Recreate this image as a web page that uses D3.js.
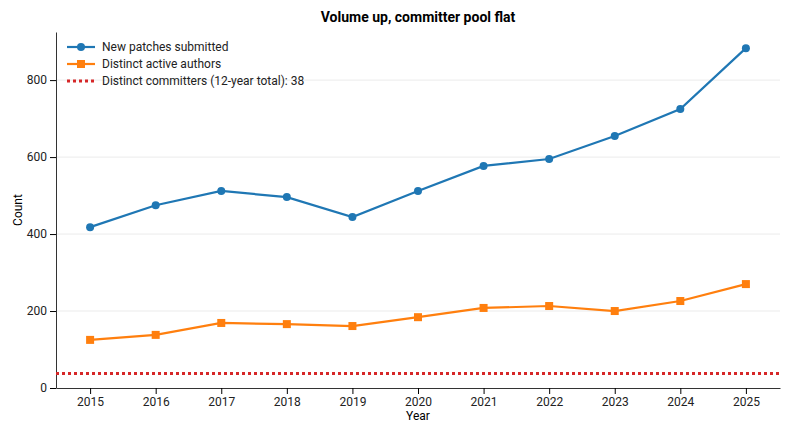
<!DOCTYPE html>
<html><head><meta charset="utf-8">
<script src="https://cdn.jsdelivr.net/npm/d3@7"></script>
<style>body{margin:0;background:#fff}text{font-family:Roboto,sans-serif}</style>
</head><body><svg id="c" width="792" height="436"></svg>
<script>
const years=[2015,2016,2017,2018,2019,2020,2021,2022,2023,2024,2025];
const patches=[418,475,512,496,444,512,577,595,655,725,883];
const authors=[125,138,169,166,161,184,208,213,200,226,270];
const committers=38;
const yTicks=[0,200,400,600,800];
const svg=d3.select("#c");
const m={l:56,r:780,t:32,b:388};
const x=d3.scaleLinear().domain([2014.48,2025.52]).range([m.l,m.r]);
const y=d3.scaleLinear().domain([0,925]).range([m.b,m.t]);
svg.append("g").selectAll("line").data(yTicks.slice(1)).join("line")
 .attr("x1",m.l).attr("x2",m.r).attr("y1",d=>y(d)).attr("y2",d=>y(d)).attr("stroke","#e6e6e6").attr("stroke-width",0.8);
const gx=svg.append("g").attr("transform",`translate(0,${m.b})`).call(d3.axisBottom(x).tickValues(years).tickFormat(d3.format("d")).tickSizeOuter(0));
const gy=svg.append("g").attr("transform",`translate(${m.l},0)`).call(d3.axisLeft(y).tickValues(yTicks).tickSizeOuter(0));
[gx,gy].forEach(g=>{g.selectAll("text").attr("font-size",12).attr("fill","#222");g.select(".domain").attr("stroke","#333");});
svg.append("line").attr("x1",m.l).attr("x2",m.r).attr("y1",y(committers)).attr("y2",y(committers)).attr("stroke","#d62728").attr("stroke-width",3).attr("stroke-dasharray","3,3");
const line=d3.line().x((d,i)=>x(years[i])).y(d=>y(d));
svg.append("path").attr("d",line(patches)).attr("fill","none").attr("stroke","#1f77b4").attr("stroke-width",2.2);
svg.append("g").selectAll("circle").data(patches).join("circle").attr("cx",(d,i)=>x(years[i])).attr("cy",d=>y(d)).attr("r",4).attr("fill","#1f77b4");
svg.append("path").attr("d",line(authors)).attr("fill","none").attr("stroke","#ff7f0e").attr("stroke-width",2.2);
svg.append("g").selectAll("rect").data(authors).join("rect").attr("x",(d,i)=>x(years[i])-4).attr("y",d=>y(d)-4).attr("width",8).attr("height",8).attr("fill","#ff7f0e");
svg.append("text").attr("x",418).attr("y",22).attr("text-anchor","middle").attr("font-size",14).attr("font-weight","bold").text("Volume up, committer pool flat");
svg.append("text").attr("x",418).attr("y",420).attr("text-anchor","middle").attr("font-size",12).text("Year");
svg.append("text").attr("transform","translate(22,210) rotate(-90)").attr("text-anchor","middle").attr("font-size",12).text("Count");
const leg=[["New patches submitted","#1f77b4","c"],["Distinct active authors","#ff7f0e","s"],["Distinct committers (12-year total): 38","#d62728","d"]];
leg.forEach((l,i)=>{const yy=47+i*17;
 if(l[2]==="d") svg.append("line").attr("x1",67).attr("x2",95).attr("y1",yy).attr("y2",yy).attr("stroke",l[1]).attr("stroke-width",3).attr("stroke-dasharray","3,3");
 else svg.append("line").attr("x1",67).attr("x2",95).attr("y1",yy).attr("y2",yy).attr("stroke",l[1]).attr("stroke-width",2.2);
 if(l[2]==="c") svg.append("circle").attr("cx",81).attr("cy",yy).attr("r",4).attr("fill",l[1]);
 if(l[2]==="s") svg.append("rect").attr("x",77).attr("y",yy-4).attr("width",8).attr("height",8).attr("fill",l[1]);
 svg.append("text").attr("x",102).attr("y",yy+4).attr("font-size",12).attr("fill","#222").text(l[0]);
});
</script></body></html>
